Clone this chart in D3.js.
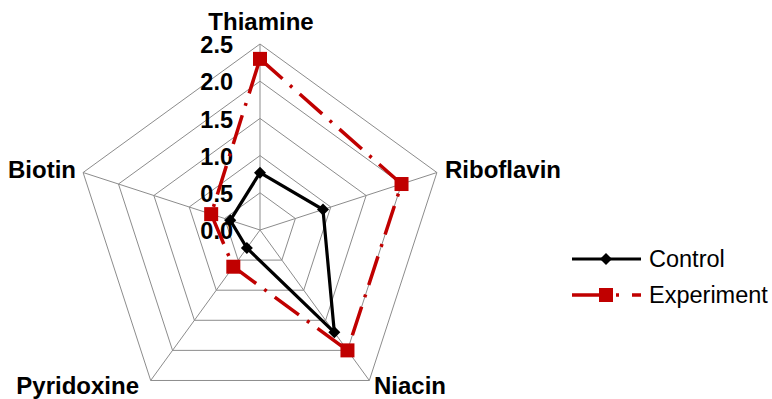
<!DOCTYPE html>
<html>
<head>
<meta charset="utf-8">
<script src="https://cdn.jsdelivr.net/npm/d3@7"></script>
<style>
  html, body { margin: 0; padding: 0; background: #fff; }
  svg { display: block; font-family: "Liberation Sans", Arial, sans-serif; }
</style>
</head>
<body>
<svg id="chart" width="772" height="399"></svg>
<script>
// Vitamin categories around the radar, clockwise from the top
const categories = ["Thiamine", "Riboflavin", "Niacin", "Pyridoxine", "Biotin"];
const controlValues = [0.77, 0.89, 1.70, 0.30, 0.42];
const experimentValues = [2.30, 2.00, 2.00, 0.61, 0.69];
const tickValues = [0.0, 0.5, 1.0, 1.5, 2.0, 2.5];
const seriesNames = ["Control", "Experiment"];

const svg = d3.select("#chart");
const cx = 260, cy = 230, radius = 186;
const r = d3.scaleLinear().domain([0, 2.5]).range([0, radius]);
const angle = d3.scaleLinear().domain([0, categories.length]).range([0, 2 * Math.PI]);

function pt(i, v) {
  const a = angle(i);
  return [cx + r(v) * Math.sin(a), cy - r(v) * Math.cos(a)];
}

const g = svg.append("g");

// Pentagonal grid rings
const ring = d3.line().curve(d3.curveLinearClosed);
tickValues.filter(t => t > 0).forEach(t => {
  g.append("path")
    .attr("d", ring(categories.map((c, i) => pt(i, t))))
    .attr("fill", "none")
    .attr("stroke", "#8c8c8c")
    .attr("stroke-width", 1);
});

// Spokes
categories.forEach((c, i) => {
  const [x, y] = pt(i, 2.5);
  g.append("line")
    .attr("x1", cx).attr("y1", cy).attr("x2", x).attr("y2", y)
    .attr("stroke", "#8c8c8c").attr("stroke-width", 1);
});

// Axis tick labels along the top spoke
g.selectAll("text.tick").data(tickValues).enter().append("text")
  .attr("class", "tick")
  .attr("x", 233)
  .attr("y", d => pt(0, d)[1] + 1)
  .attr("dy", "0.35em")
  .attr("text-anchor", "end")
  .attr("font-size", 23.5)
  .attr("font-weight", "bold")
  .text(d => d.toFixed(1));

// Category labels
const labelPos = [
  { x: 261, y: 30, anchor: "middle" },
  { x: 445, y: 178, anchor: "start" },
  { x: 374, y: 394, anchor: "start" },
  { x: 139, y: 394, anchor: "end" },
  { x: 76, y: 178, anchor: "end" }
];
categories.forEach((c, i) => {
  g.append("text")
    .attr("x", labelPos[i].x).attr("y", labelPos[i].y)
    .attr("text-anchor", labelPos[i].anchor)
    .attr("font-size", 24).attr("font-weight", "bold")
    .text(c);
});

const styles = {
  Control: { color: "#000000", dash: null, width: 3.2 },
  Experiment: { color: "#c00000", dash: "30,10,3,10", width: 3.5 }
};

function drawMarker(sel, name, x, y) {
  if (name === "Control") {
    sel.append("path")
      .attr("d", d3.symbol().type(d3.symbolSquare).size(72)())
      .attr("transform", `translate(${x},${y}) rotate(45)`)
      .attr("fill", "#000");
  } else {
    sel.append("rect")
      .attr("x", x - 7).attr("y", y - 7)
      .attr("width", 14).attr("height", 14)
      .attr("fill", "#c00000");
  }
}

const seriesData = { Control: controlValues, Experiment: experimentValues };
seriesNames.forEach(name => {
  const vals = seriesData[name];
  const pts = vals.map((v, i) => pt(i, v));
  const s = styles[name];
  g.append("path")
    .attr("d", ring(pts))
    .attr("fill", "none")
    .attr("stroke", s.color)
    .attr("stroke-width", s.width)
    .attr("stroke-dasharray", s.dash)
    .attr("stroke-linejoin", "miter");
  pts.forEach(p => drawMarker(g, name, p[0], p[1]));
});

// Legend
const legend = svg.append("g");
seriesNames.forEach((name, i) => {
  const y = 259 + i * 36;
  const s = styles[name];
  legend.append("line")
    .attr("x1", 572).attr("x2", 641).attr("y1", y).attr("y2", y)
    .attr("stroke", s.color).attr("stroke-width", s.width)
    .attr("stroke-dasharray", name === "Experiment" ? "34,10,3,13" : null);
  drawMarker(legend, name, 606, y);
  legend.append("text")
    .attr("x", 649).attr("y", y).attr("dy", "0.35em")
    .attr("font-size", 23.5)
    .text(name);
});
</script>
</body>
</html>
